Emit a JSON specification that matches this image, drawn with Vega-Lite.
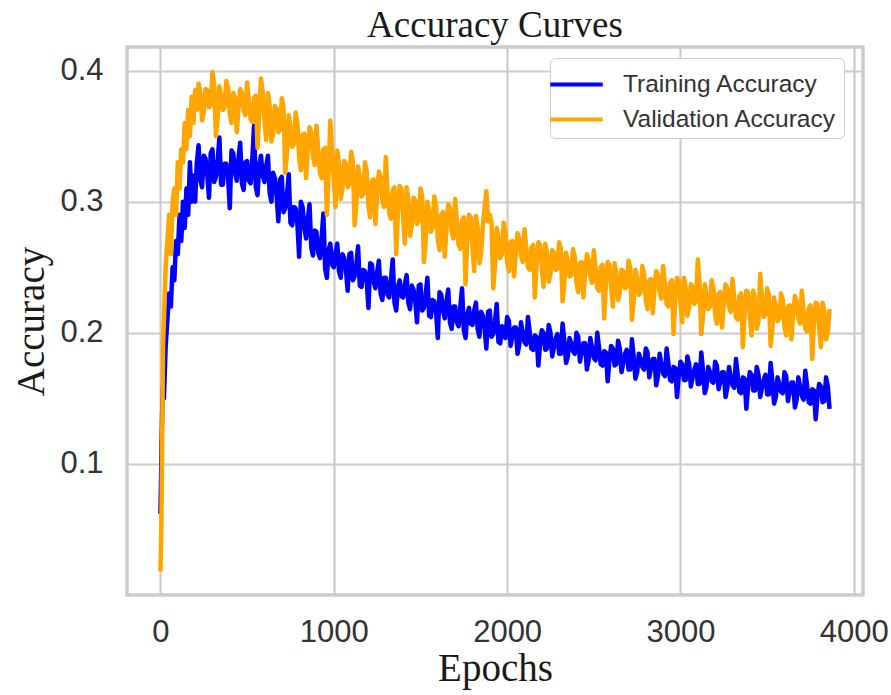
{
  "$schema": "https://vega.github.io/schema/vega-lite/v6.json",
  "width": 736,
  "height": 548,
  "autosize": "none",
  "padding": {"left": 127, "top": 47, "right": 28, "bottom": 100},
  "background": "white",
  "title": {"text": "Accuracy Curves", "font": "Liberation Serif", "fontSize": 37, "fontWeight": "normal", "color": "#1a1a1a", "anchor": "middle", "offset": 2},
  "config": {
    "view": {"stroke": "#cccccc", "strokeWidth": 3.5},
    "axis": {"gridColor": "#cccccc", "gridWidth": 2.2, "domain": false, "ticks": false, "labelFont": "Liberation Sans", "labelFontSize": 31, "labelColor": "#333333", "titleFont": "Liberation Serif", "titleFontSize": 39, "titleFontWeight": "normal", "titleColor": "#1a1a1a"}
  },
  "data": {"values": [
    {"e":0,"t":0.062,"v":0.018},{"e":5,"t":0.10,"v":0.05},{"e":10,"t":0.14,"v":0.12},{"e":15,"t":0.16,"v":0.19},{"e":20,"t":0.15,"v":0.21},
    {"e":30,"t":0.19,"v":0.25},{"e":40,"t":0.21,"v":0.27},{"e":50,"t":0.23,"v":0.29},{"e":60,"t":0.22,"v":0.26},{"e":70,"t":0.25,"v":0.30},
    {"e":80,"t":0.24,"v":0.31},{"e":90,"t":0.27,"v":0.29},{"e":100,"t":0.26,"v":0.33},{"e":110,"t":0.29,"v":0.31},{"e":120,"t":0.27,"v":0.34},
    {"e":130,"t":0.30,"v":0.33},{"e":140,"t":0.28,"v":0.36},{"e":150,"t":0.31,"v":0.34},{"e":160,"t":0.29,"v":0.37},{"e":170,"t":0.33,"v":0.35},
    {"e":180,"t":0.30,"v":0.38},{"e":190,"t":0.32,"v":0.36},{"e":200,"t":0.30,"v":0.385},{"e":210,"t":0.33,"v":0.37},
    {"e":220,"t":0.343,"v":0.390},{"e":240,"t":0.311,"v":0.362},{"e":260,"t":0.333,"v":0.386},{"e":280,"t":0.303,"v":0.372},{"e":300,"t":0.340,"v":0.399},
    {"e":320,"t":0.319,"v":0.350},{"e":340,"t":0.349,"v":0.388},{"e":360,"t":0.313,"v":0.370},{"e":380,"t":0.329,"v":0.392},{"e":400,"t":0.295,"v":0.367},
    {"e":420,"t":0.337,"v":0.383},{"e":440,"t":0.316,"v":0.353},{"e":460,"t":0.345,"v":0.386},{"e":480,"t":0.309,"v":0.370},{"e":500,"t":0.331,"v":0.391},
    {"e":520,"t":0.314,"v":0.363},{"e":540,"t":0.358,"v":0.379},{"e":560,"t":0.305,"v":0.341},{"e":580,"t":0.335,"v":0.394},{"e":600,"t":0.315,"v":0.363},
    {"e":620,"t":0.335,"v":0.383},{"e":640,"t":0.300,"v":0.346},{"e":660,"t":0.318,"v":0.373},{"e":680,"t":0.285,"v":0.353},{"e":700,"t":0.319,"v":0.379},
    {"e":720,"t":0.295,"v":0.322},{"e":740,"t":0.321,"v":0.366},{"e":760,"t":0.282,"v":0.342},{"e":780,"t":0.295,"v":0.368},{"e":800,"t":0.258,"v":0.334},
    {"e":820,"t":0.296,"v":0.351},{"e":840,"t":0.272,"v":0.318},{"e":860,"t":0.298,"v":0.357},{"e":880,"t":0.259,"v":0.335},{"e":900,"t":0.277,"v":0.358},
    {"e":920,"t":0.257,"v":0.322},{"e":940,"t":0.291,"v":0.340},{"e":960,"t":0.242,"v":0.290},{"e":980,"t":0.268,"v":0.362},{"e":1000,"t":0.250,"v":0.316},
    {"e":1020,"t":0.268,"v":0.339},{"e":1040,"t":0.242,"v":0.302},{"e":1060,"t":0.257,"v":0.331},{"e":1080,"t":0.232,"v":0.311},{"e":1100,"t":0.261,"v":0.338},
    {"e":1120,"t":0.243,"v":0.282},{"e":1140,"t":0.266,"v":0.327},{"e":1160,"t":0.235,"v":0.304},{"e":1180,"t":0.247,"v":0.330},{"e":1200,"t":0.219,"v":0.297},
    {"e":1220,"t":0.252,"v":0.316},{"e":1240,"t":0.234,"v":0.283},{"e":1260,"t":0.255,"v":0.323},{"e":1280,"t":0.225,"v":0.301},{"e":1300,"t":0.242,"v":0.334},
    {"e":1320,"t":0.227,"v":0.291},{"e":1340,"t":0.256,"v":0.309},{"e":1360,"t":0.217,"v":0.260},{"e":1380,"t":0.240,"v":0.312},{"e":1400,"t":0.227,"v":0.288},
    {"e":1420,"t":0.244,"v":0.311},{"e":1440,"t":0.218,"v":0.274},{"e":1460,"t":0.233,"v":0.303},{"e":1480,"t":0.208,"v":0.283},{"e":1500,"t":0.237,"v":0.310},
    {"e":1520,"t":0.219,"v":0.254},{"e":1540,"t":0.242,"v":0.300},{"e":1560,"t":0.212,"v":0.277},{"e":1580,"t":0.224,"v":0.304},{"e":1600,"t":0.196,"v":0.271},
    {"e":1620,"t":0.229,"v":0.290},{"e":1640,"t":0.211,"v":0.258},{"e":1660,"t":0.233,"v":0.298},{"e":1680,"t":0.203,"v":0.277},{"e":1700,"t":0.220,"v":0.302},
    {"e":1720,"t":0.205,"v":0.267},{"e":1740,"t":0.234,"v":0.286},{"e":1760,"t":0.196,"v":0.237},{"e":1780,"t":0.219,"v":0.290},{"e":1800,"t":0.206,"v":0.266},
    {"e":1820,"t":0.223,"v":0.289},{"e":1840,"t":0.197,"v":0.253},{"e":1860,"t":0.213,"v":0.282},{"e":1880,"t":0.188,"v":0.308},{"e":1900,"t":0.217,"v":0.290},
    {"e":1920,"t":0.199,"v":0.234},{"e":1940,"t":0.222,"v":0.280},{"e":1960,"t":0.192,"v":0.257},{"e":1980,"t":0.204,"v":0.284},{"e":2000,"t":0.212,"v":0.254},
    {"e":2020,"t":0.190,"v":0.269},{"e":2040,"t":0.204,"v":0.243},{"e":2060,"t":0.184,"v":0.276},{"e":2080,"t":0.208,"v":0.259},{"e":2100,"t":0.193,"v":0.279},
    {"e":2120,"t":0.212,"v":0.250},{"e":2140,"t":0.188,"v":0.265},{"e":2160,"t":0.198,"v":0.227},{"e":2180,"t":0.175,"v":0.269},{"e":2200,"t":0.202,"v":0.250},
    {"e":2220,"t":0.187,"v":0.268},{"e":2240,"t":0.206,"v":0.239},{"e":2260,"t":0.182,"v":0.263},{"e":2280,"t":0.196,"v":0.248},{"e":2300,"t":0.184,"v":0.269},
    {"e":2320,"t":0.207,"v":0.224},{"e":2340,"t":0.177,"v":0.261},{"e":2360,"t":0.196,"v":0.243},{"e":2380,"t":0.186,"v":0.264},{"e":2400,"t":0.200,"v":0.238},
    {"e":2420,"t":0.178,"v":0.253},{"e":2440,"t":0.192,"v":0.227},{"e":2460,"t":0.172,"v":0.260},{"e":2480,"t":0.196,"v":0.243},{"e":2500,"t":0.181,"v":0.263},
    {"e":2520,"t":0.200,"v":0.234},{"e":2540,"t":0.176,"v":0.250},{"e":2560,"t":0.186,"v":0.211},{"e":2580,"t":0.163,"v":0.254},{"e":2600,"t":0.190,"v":0.235},
    {"e":2620,"t":0.175,"v":0.253},{"e":2640,"t":0.194,"v":0.225},{"e":2660,"t":0.170,"v":0.248},{"e":2680,"t":0.184,"v":0.234},{"e":2700,"t":0.172,"v":0.255},
    {"e":2720,"t":0.195,"v":0.210},{"e":2740,"t":0.165,"v":0.248},{"e":2760,"t":0.184,"v":0.229},{"e":2780,"t":0.174,"v":0.251},{"e":2800,"t":0.188,"v":0.225},
    {"e":2820,"t":0.166,"v":0.240},{"e":2840,"t":0.180,"v":0.215},{"e":2860,"t":0.160,"v":0.247},{"e":2880,"t":0.184,"v":0.231},{"e":2900,"t":0.169,"v":0.251},
    {"e":2920,"t":0.188,"v":0.222},{"e":2940,"t":0.164,"v":0.238},{"e":2960,"t":0.174,"v":0.199},{"e":2980,"t":0.151,"v":0.242},{"e":3000,"t":0.178,"v":0.223},
    {"e":3020,"t":0.164,"v":0.242},{"e":3040,"t":0.182,"v":0.213},{"e":3060,"t":0.159,"v":0.237},{"e":3080,"t":0.172,"v":0.222},{"e":3100,"t":0.161,"v":0.256},
    {"e":3120,"t":0.185,"v":0.199},{"e":3140,"t":0.154,"v":0.237},{"e":3160,"t":0.174,"v":0.218},{"e":3180,"t":0.163,"v":0.240},{"e":3200,"t":0.178,"v":0.214},
    {"e":3220,"t":0.157,"v":0.230},{"e":3240,"t":0.170,"v":0.204},{"e":3260,"t":0.151,"v":0.237},{"e":3280,"t":0.174,"v":0.220},{"e":3300,"t":0.160,"v":0.241},
    {"e":3320,"t":0.180,"v":0.212},{"e":3340,"t":0.155,"v":0.228},{"e":3360,"t":0.166,"v":0.189},{"e":3380,"t":0.142,"v":0.232},{"e":3400,"t":0.170,"v":0.213},
    {"e":3420,"t":0.156,"v":0.232},{"e":3440,"t":0.174,"v":0.203},{"e":3460,"t":0.151,"v":0.245},{"e":3480,"t":0.164,"v":0.212},{"e":3500,"t":0.153,"v":0.234},
    {"e":3520,"t":0.177,"v":0.190},{"e":3540,"t":0.146,"v":0.227},{"e":3560,"t":0.166,"v":0.209},{"e":3580,"t":0.155,"v":0.230},{"e":3600,"t":0.170,"v":0.205},
    {"e":3620,"t":0.148,"v":0.220},{"e":3640,"t":0.162,"v":0.195},{"e":3660,"t":0.143,"v":0.228},{"e":3680,"t":0.166,"v":0.211},{"e":3700,"t":0.152,"v":0.232},
    {"e":3720,"t":0.171,"v":0.203},{"e":3740,"t":0.147,"v":0.219},{"e":3760,"t":0.157,"v":0.180},{"e":3780,"t":0.134,"v":0.223},{"e":3800,"t":0.161,"v":0.204},
    {"e":3820,"t":0.147,"v":0.223},{"e":3840,"t":0.166,"v":0.195},{"e":3860,"t":0.142,"v":0.218},
    {"e":230,"t":0.317,"v":0.383},{"e":250,"t":0.335,"v":0.368},{"e":270,"t":0.321,"v":0.385},{"e":290,"t":0.337,"v":0.374},{"e":310,"t":0.315,"v":0.389},
    {"e":330,"t":0.331,"v":0.364},{"e":350,"t":0.313,"v":0.381},{"e":370,"t":0.329,"v":0.372},{"e":390,"t":0.319,"v":0.387},{"e":410,"t":0.339,"v":0.360},
    {"e":430,"t":0.322,"v":0.379},{"e":450,"t":0.333,"v":0.371},{"e":470,"t":0.314,"v":0.383},{"e":490,"t":0.330,"v":0.366},{"e":510,"t":0.316,"v":0.377},
    {"e":530,"t":0.332,"v":0.361},{"e":550,"t":0.311,"v":0.381},{"e":570,"t":0.328,"v":0.368},{"e":590,"t":0.320,"v":0.383},{"e":610,"t":0.327,"v":0.347},
    {"e":630,"t":0.307,"v":0.373},{"e":650,"t":0.322,"v":0.352},{"e":670,"t":0.305,"v":0.371},{"e":690,"t":0.317,"v":0.355},{"e":710,"t":0.292,"v":0.372},
    {"e":730,"t":0.305,"v":0.337},{"e":750,"t":0.284,"v":0.357},{"e":770,"t":0.296,"v":0.344},{"e":790,"t":0.283,"v":0.360},{"e":810,"t":0.300,"v":0.324},
    {"e":830,"t":0.280,"v":0.352},{"e":850,"t":0.287,"v":0.339},{"e":870,"t":0.265,"v":0.353},{"e":890,"t":0.278,"v":0.328},{"e":910,"t":0.261,"v":0.340},
    {"e":930,"t":0.273,"v":0.318},{"e":950,"t":0.249,"v":0.341},{"e":970,"t":0.263,"v":0.322},{"e":990,"t":0.252,"v":0.338},{"e":1010,"t":0.261,"v":0.296},
    {"e":1030,"t":0.247,"v":0.329},{"e":1050,"t":0.260,"v":0.310},{"e":1070,"t":0.248,"v":0.329},{"e":1090,"t":0.260,"v":0.314},{"e":1110,"t":0.240,"v":0.331},
    {"e":1130,"t":0.252,"v":0.298},{"e":1150,"t":0.236,"v":0.319},{"e":1170,"t":0.248,"v":0.306},{"e":1190,"t":0.239,"v":0.323},{"e":1210,"t":0.253,"v":0.288},
    {"e":1230,"t":0.239,"v":0.317},{"e":1250,"t":0.246,"v":0.305},{"e":1270,"t":0.230,"v":0.319},{"e":1290,"t":0.242,"v":0.296},{"e":1310,"t":0.229,"v":0.308},
    {"e":1330,"t":0.241,"v":0.287},{"e":1350,"t":0.223,"v":0.311},{"e":1370,"t":0.235,"v":0.293},{"e":1390,"t":0.228,"v":0.310},{"e":1410,"t":0.237,"v":0.268},
    {"e":1430,"t":0.223,"v":0.301},{"e":1450,"t":0.236,"v":0.282},{"e":1470,"t":0.224,"v":0.301},{"e":1490,"t":0.236,"v":0.286},{"e":1510,"t":0.217,"v":0.304},
    {"e":1530,"t":0.229,"v":0.271},{"e":1550,"t":0.213,"v":0.292},{"e":1570,"t":0.225,"v":0.280},{"e":1590,"t":0.216,"v":0.297},{"e":1610,"t":0.231,"v":0.263},
    {"e":1630,"t":0.217,"v":0.292},{"e":1650,"t":0.224,"v":0.280},{"e":1670,"t":0.208,"v":0.295},{"e":1690,"t":0.220,"v":0.272},{"e":1710,"t":0.208,"v":0.285},
    {"e":1730,"t":0.220,"v":0.264},{"e":1750,"t":0.202,"v":0.288},{"e":1770,"t":0.214,"v":0.271},{"e":1790,"t":0.207,"v":0.288},{"e":1810,"t":0.217,"v":0.247},
    {"e":1830,"t":0.203,"v":0.280},{"e":1850,"t":0.216,"v":0.261},{"e":1870,"t":0.204,"v":0.295},{"e":1890,"t":0.216,"v":0.285},{"e":1910,"t":0.197,"v":0.284},
    {"e":1930,"t":0.209,"v":0.251},{"e":1950,"t":0.193,"v":0.272},{"e":1970,"t":0.205,"v":0.260},{"e":1990,"t":0.196,"v":0.277},{"e":2010,"t":0.209,"v":0.247},
    {"e":2030,"t":0.197,"v":0.270},{"e":2050,"t":0.204,"v":0.261},{"e":2070,"t":0.191,"v":0.272},{"e":2090,"t":0.200,"v":0.254},{"e":2110,"t":0.191,"v":0.265},
    {"e":2130,"t":0.201,"v":0.248},{"e":2150,"t":0.187,"v":0.267},{"e":2170,"t":0.197,"v":0.253},{"e":2190,"t":0.191,"v":0.267},{"e":2210,"t":0.200,"v":0.235},
    {"e":2230,"t":0.188,"v":0.261},{"e":2250,"t":0.200,"v":0.245},{"e":2270,"t":0.189,"v":0.261},{"e":2290,"t":0.199,"v":0.249},{"e":2310,"t":0.184,"v":0.264},
    {"e":2330,"t":0.194,"v":0.238},{"e":2350,"t":0.182,"v":0.254},{"e":2370,"t":0.192,"v":0.244},{"e":2390,"t":0.184,"v":0.258},{"e":2410,"t":0.197,"v":0.231},
    {"e":2430,"t":0.185,"v":0.254},{"e":2450,"t":0.192,"v":0.245},{"e":2470,"t":0.179,"v":0.256},{"e":2490,"t":0.188,"v":0.238},{"e":2510,"t":0.179,"v":0.249},
    {"e":2530,"t":0.189,"v":0.232},{"e":2550,"t":0.175,"v":0.252},{"e":2570,"t":0.185,"v":0.238},{"e":2590,"t":0.179,"v":0.252},{"e":2610,"t":0.188,"v":0.220},
    {"e":2630,"t":0.176,"v":0.246},{"e":2650,"t":0.188,"v":0.231},{"e":2670,"t":0.177,"v":0.247},{"e":2690,"t":0.187,"v":0.235},{"e":2710,"t":0.172,"v":0.250},
    {"e":2730,"t":0.182,"v":0.224},{"e":2750,"t":0.170,"v":0.241},{"e":2770,"t":0.180,"v":0.231},{"e":2790,"t":0.172,"v":0.245},{"e":2810,"t":0.185,"v":0.218},
    {"e":2830,"t":0.173,"v":0.241},{"e":2850,"t":0.180,"v":0.233},{"e":2870,"t":0.167,"v":0.244},{"e":2890,"t":0.176,"v":0.226},{"e":2910,"t":0.167,"v":0.237},
    {"e":2930,"t":0.177,"v":0.220},{"e":2950,"t":0.163,"v":0.240},{"e":2970,"t":0.173,"v":0.226},{"e":2990,"t":0.167,"v":0.240},{"e":3010,"t":0.176,"v":0.208},
    {"e":3030,"t":0.164,"v":0.234},{"e":3050,"t":0.176,"v":0.219},{"e":3070,"t":0.166,"v":0.235},{"e":3090,"t":0.176,"v":0.224},{"e":3110,"t":0.161,"v":0.238},
    {"e":3130,"t":0.171,"v":0.213},{"e":3150,"t":0.159,"v":0.229},{"e":3170,"t":0.170,"v":0.220},{"e":3190,"t":0.162,"v":0.234},{"e":3210,"t":0.175,"v":0.207},
    {"e":3230,"t":0.163,"v":0.231},{"e":3250,"t":0.170,"v":0.222},{"e":3270,"t":0.158,"v":0.234},{"e":3290,"t":0.167,"v":0.216},{"e":3310,"t":0.158,"v":0.227},
    {"e":3330,"t":0.168,"v":0.210},{"e":3350,"t":0.154,"v":0.230},{"e":3370,"t":0.165,"v":0.216},{"e":3390,"t":0.159,"v":0.231},{"e":3410,"t":0.168,"v":0.198},
    {"e":3430,"t":0.156,"v":0.225},{"e":3450,"t":0.168,"v":0.209},{"e":3470,"t":0.158,"v":0.226},{"e":3490,"t":0.168,"v":0.214},{"e":3510,"t":0.153,"v":0.229},
    {"e":3530,"t":0.163,"v":0.203},{"e":3550,"t":0.151,"v":0.220},{"e":3570,"t":0.161,"v":0.211},{"e":3590,"t":0.154,"v":0.225},{"e":3610,"t":0.167,"v":0.198},
    {"e":3630,"t":0.155,"v":0.221},{"e":3650,"t":0.162,"v":0.213},{"e":3670,"t":0.149,"v":0.224},{"e":3690,"t":0.159,"v":0.207},{"e":3710,"t":0.149,"v":0.217},
    {"e":3730,"t":0.160,"v":0.201},{"e":3750,"t":0.146,"v":0.221},{"e":3770,"t":0.156,"v":0.207},{"e":3790,"t":0.151,"v":0.222},{"e":3810,"t":0.159,"v":0.189},
    {"e":3830,"t":0.148,"v":0.216},{"e":3850,"t":0.159,"v":0.200}
  ]},
  "transform": [{"fold": ["t", "v"], "as": ["s", "a"]}],
  "mark": {"type": "line", "strokeWidth": 4.5, "strokeJoin": "round", "clip": true},
  "encoding": {
    "x": {"field": "e", "type": "quantitative", "title": "Epochs", "sort": "ascending", "scale": {"domain": [-193, 4053], "nice": false, "zero": false},
          "axis": {"values": [0, 1000, 2000, 3000, 4000], "format": "d", "labelPadding": 22, "titlePadding": 2, "labelFlush": false}},
    "y": {"field": "a", "type": "quantitative", "title": "Accuracy", "scale": {"domain": [0.0, 0.418], "nice": false, "zero": false},
          "axis": {"values": [0.1, 0.2, 0.3, 0.4], "format": ".1f", "labelPadding": 24, "titlePadding": 8, "labelFlush": false}},
    "color": {"field": "s", "type": "nominal",
              "scale": {"domain": ["t", "v"], "range": ["#0000ff", "#ffa500"]},
              "legend": {"title": null, "orient": "none", "legendX": 423, "legendY": 11,
                         "labelExpr": "datum.label == 't' ? 'Training Accuracy' : 'Validation Accuracy'",
                         "labelFont": "Liberation Sans", "labelFontSize": 24.5, "labelColor": "#333333", "labelLimit": 400,
                         "symbolType": "M-1.5,0H1.5", "symbolStrokeWidth": 4, "symbolSize": 1225, "symbolFillColor": "transparent",
                         "labelOffset": 27, "rowPadding": 4, "padding": 7,
                         "strokeColor": "#cccccc", "fillColor": "white", "cornerRadius": 5}}
  }
}
